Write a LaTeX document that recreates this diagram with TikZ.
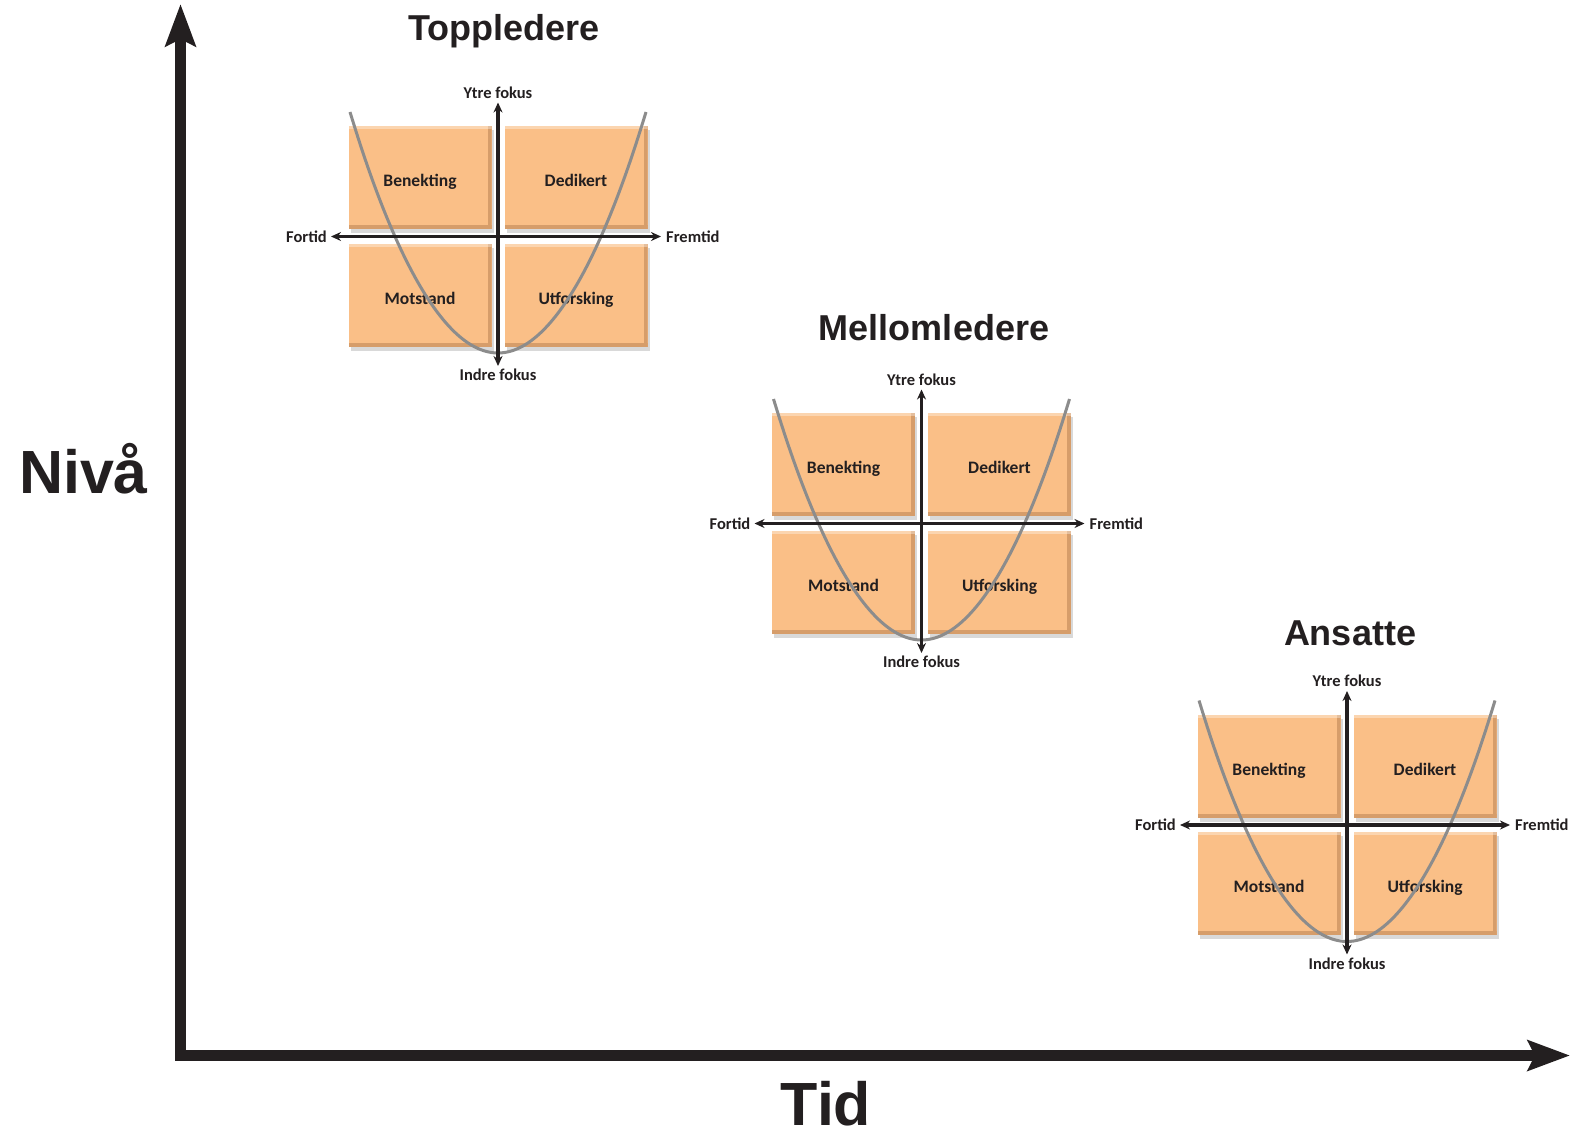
\documentclass[tikz,border=0pt]{standalone}
\usepackage{fontspec}
\setmainfont{Liberation Sans}
\newfontfamily\calibfont{Carlito}
\usetikzlibrary{arrows.meta,positioning,shadows}

\definecolor{akse}{RGB}{35,31,32}
\definecolor{feltfarge}{RGB}{250,191,135}
\definecolor{feltkant}{RGB}{214,157,106}
\definecolor{kurvefarge}{RGB}{140,140,140}

\tikzset{
  felt/.style={rectangle, fill=feltfarge, minimum width=143pt, minimum height=103pt, inner sep=0pt,
    font=\calibfont\bfseries\fontsize{17.5}{20}\selectfont, text=akse, text height=18pt, text depth=0pt,
    drop shadow={shadow xshift=2pt, shadow yshift=-4pt, opacity=.3},
    path picture={
      \fill[feltkant] ([yshift=4pt]path picture bounding box.south west) rectangle (path picture bounding box.south east);
      \fill[feltkant] ([xshift=-4pt]path picture bounding box.north east) rectangle (path picture bounding box.south east);
      \fill[white,opacity=.35] (path picture bounding box.north west) rectangle ([yshift=-3pt]path picture bounding box.north east);
    }},
  lbl/.style={font=\calibfont\bfseries\fontsize{16.5}{18}\selectfont, text=akse, inner sep=3pt},
  tittel/.style={font=\bfseries\fontsize{36}{40}\selectfont, text=akse, anchor=base},
  stor/.style={font=\bfseries\fontsize{61}{70}\selectfont, text=akse, anchor=base, inner sep=1pt},
  qakse/.style={draw=akse, line width=3.5pt, {Stealth[length=10pt,width=9pt]}-{Stealth[length=10pt,width=9pt]}},
  kurve/.style={draw=kurvefarge, line width=3pt},
  hovedakse/.style={draw=akse, line width=11pt, line join=miter,
    {Stealth[length=42pt,width=30pt,inset=7pt]}-{Stealth[length=42pt,width=30pt,inset=7pt]}},
}

\begin{document}
\begin{tikzpicture}[x=1pt,y=-1pt]
  \useasboundingbox (0,0) rectangle (1570,1131);

  % Hovedakser
  \coordinate (origo) at (180.5,1055.5);
  \coordinate (nivatopp) at (180.5,4);
  \coordinate (tidslutt) at (1570,1055.5);
  \draw[hovedakse] (nivatopp) -- (origo) -- (tidslutt);
  \node[stor] (niva) at (83.5,493) {Nivå};
  \node[stor] (tid) at (826,1125) {Tid};

  % Titler
  \node[tittel] (topp) at (504,41) {Toppledere};
  \node[tittel] (mellom) at (934,340) {Mellomledere};
  \node[tittel] (ansatte) at (1350,645) {Ansatte};

  % Toppledere
  \begin{scope}[shift={(498,236.5)}]
    \node[felt] (ben1) at (-78,-58.75) {Benekting};
    \node[felt] (ded1) at (78,-58.75) {Dedikert};
    \node[felt] (mot1) at (-78,58.75) {Motstand};
    \node[felt] (utf1) at (78,58.75) {Utforsking};
    \draw[kurve] (-148,-124.5) parabola bend (0,116.5) (148,-124.5);
    \coordinate (v1) at (-167,0);
    \coordinate (h1) at (163,0);
    \coordinate (o1) at (0,-134);
    \coordinate (n1) at (0,129.5);
    \draw[qakse] (v1) -- (h1);
    \draw[qakse] (n1) -- (o1);
    \node[lbl, left=1pt of v1] (fortid1) {Fortid};
    \node[lbl, right=2pt of h1] (fremtid1) {Fremtid};
    \node[lbl, above=1pt of o1] (ytre1) {Ytre fokus};
    \node[lbl, below=0pt of n1] (indre1) {Indre fokus};
  \end{scope}

  % Mellomledere
  \begin{scope}[shift={(921.5,523.5)}]
    \node[felt] (ben2) at (-78,-58.75) {Benekting};
    \node[felt] (ded2) at (78,-58.75) {Dedikert};
    \node[felt] (mot2) at (-78,58.75) {Motstand};
    \node[felt] (utf2) at (78,58.75) {Utforsking};
    \draw[kurve] (-148,-124.5) parabola bend (0,116.5) (148,-124.5);
    \coordinate (v2) at (-167,0);
    \coordinate (h2) at (163,0);
    \coordinate (o2) at (0,-134);
    \coordinate (n2) at (0,129.5);
    \draw[qakse] (v2) -- (h2);
    \draw[qakse] (n2) -- (o2);
    \node[lbl, left=1pt of v2] (fortid2) {Fortid};
    \node[lbl, right=2pt of h2] (fremtid2) {Fremtid};
    \node[lbl, above=1pt of o2] (ytre2) {Ytre fokus};
    \node[lbl, below=0pt of n2] (indre2) {Indre fokus};
  \end{scope}

  % Ansatte
  \begin{scope}[shift={(1347,825)}]
    \node[felt] (ben3) at (-78,-58.75) {Benekting};
    \node[felt] (ded3) at (78,-58.75) {Dedikert};
    \node[felt] (mot3) at (-78,58.75) {Motstand};
    \node[felt] (utf3) at (78,58.75) {Utforsking};
    \draw[kurve] (-148,-124.5) parabola bend (0,116.5) (148,-124.5);
    \coordinate (v3) at (-167,0);
    \coordinate (h3) at (163,0);
    \coordinate (o3) at (0,-134);
    \coordinate (n3) at (0,129.5);
    \draw[qakse] (v3) -- (h3);
    \draw[qakse] (n3) -- (o3);
    \node[lbl, left=1pt of v3] (fortid3) {Fortid};
    \node[lbl, right=2pt of h3] (fremtid3) {Fremtid};
    \node[lbl, above=1pt of o3] (ytre3) {Ytre fokus};
    \node[lbl, below=0pt of n3] (indre3) {Indre fokus};
  \end{scope}
\end{tikzpicture}
\end{document}
